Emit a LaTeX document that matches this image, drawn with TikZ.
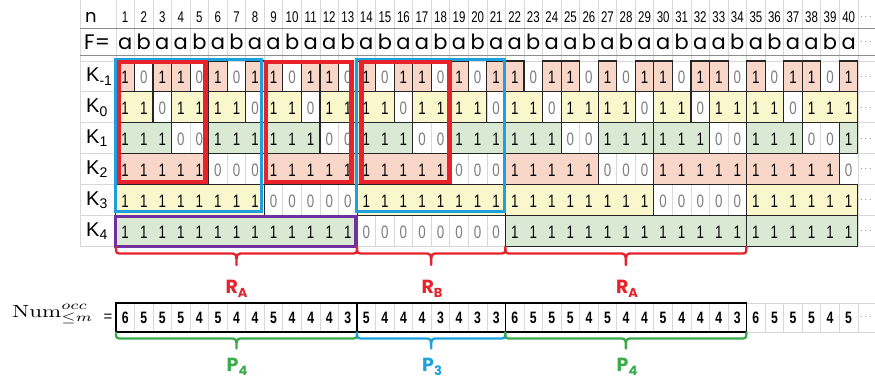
\documentclass[tikz,border=0pt]{standalone}
\usepackage[no-math]{fontspec}
\setmainfont{Liberation Sans}
\newfontfamily\nar[FakeStretch=0.74]{Liberation Sans}
\newfontfamily\narb[FakeStretch=0.74]{Liberation Sans Bold}
\newfontfamily\geo{Poppins}
\definecolor{cpink}{RGB}{248,214,200}
\definecolor{cyel}{RGB}{251,247,205}
\definecolor{cgrn}{RGB}{218,233,211}
\definecolor{cred}{RGB}{232,34,42}
\definecolor{cblue}{RGB}{30,160,220}
\definecolor{cpurp}{RGB}{112,48,160}
\definecolor{cgreen}{RGB}{58,170,74}
\definecolor{cgrid}{RGB}{216,216,216}
\definecolor{czero}{RGB}{125,125,125}
\pgfmathdeclarefunction{colx}{1}{\pgfmathparse{115.9+18.55*(#1-1)}}
\pgfmathdeclarefunction{rowt}{1}{\pgfmathparse{61+30.9*(#1)}}
\newcommand\kbox[4]{\filldraw[fill=#4,draw=black!85,line width=1.1pt] ({colx(#2)},{rowt(#1)}) rectangle ({colx(#3+1)},{rowt(#1+1)});}
\newcommand\krow[2]{\foreach \dd [count=\ii] in {#2} {\node[kd] (k#1c\ii) at ({colx(\ii)+9.275},{rowt(#1)+23}) {\ifnum\dd=0 \color{czero}\fi\dd};}}
\newcommand\mybrace[6]{\draw[#6,line width=2.3pt,line cap=round,line join=round] (#1,#3) .. controls (#1,#4) .. (#1+7,#4) -- ({(#1+#2)/2-7},#4) .. controls ({(#1+#2)/2},#4) .. ({(#1+#2)/2},#5) .. controls ({(#1+#2)/2},#4) .. ({(#1+#2)/2+7},#4) -- (#2-7,#4) .. controls (#2,#4) .. (#2,#3);}
\begin{document}
\begin{tikzpicture}[x=1pt,y=-1pt,
  kd/.style={anchor=base,inner sep=0pt,font=\nar\fontsize{18}{18}\selectfont},
  hd/.style={anchor=base,inner sep=0pt,font=\nar\fontsize{15.5}{16}\selectfont},
  fd/.style={anchor=base,inner sep=0pt,font=\geo\fontsize{21}{22}\selectfont},
  nd/.style={anchor=base,inner sep=0pt,font=\narb\fontsize{16.5}{17}\selectfont},
  klab/.style={anchor=base west,inner sep=0pt,font=\fontsize{20}{20}\selectfont},
  ell/.style={inner sep=0pt,text=czero,font=\fontsize{10}{10}\selectfont},
  lab/.style={anchor=base,inner sep=0pt,font=\geo\bfseries\fontsize{19}{19}\selectfont}]
\useasboundingbox (0,0) rectangle (875,382);
\fill[white] (0,0) rectangle (875,382);
% grid of the table
\foreach \ii in {1,...,41} \draw[cgrid,line width=0.8pt] ({colx(\ii)},0) -- ({colx(\ii)},{rowt(6)});
\draw[cgrid,line width=0.8pt] (80,0) -- (80,{rowt(6)});
\foreach \rr in {0,...,6} \draw[cgrid,line width=0.8pt] (80,{rowt(\rr)}) -- (875,{rowt(\rr)});
\draw[black!45,line width=0.9pt] (80,28) -- (875,28);
\draw[black!45,line width=0.9pt] (80,55.5) -- (875,55.5);
% header
\node[anchor=base west,inner sep=0pt,font=\geo\fontsize{18}{18}\selectfont] (nlab) at (85,22.5) {n};
\node[anchor=base west,inner sep=0pt,font=\geo\fontsize{21}{21}\selectfont] (flab) at (84,50) {F=};
\foreach \ii in {1,...,40} \node[hd] (h\ii) at ({colx(\ii)+9.275},23) {\ii};
\foreach \cc [count=\ii] in {a,b,a,a,b,a,b,a,a,b,a,a,b,a,b,a,a,b,a,b,a,a,b,a,a,b,a,b,a,a,b,a,a,b,a,b,a,a,b,a}
  \node[fd] (f\ii) at ({colx(\ii)+9.275},50) {\cc};
\node[ell] (hdots) at (866,17) {$\cdots$};
\node[ell] (fdots) at (866,42) {$\cdots$};
% row labels
\node[klab] (l0) at (86,{rowt(0)+21}) {K\textsubscript{-1}};
\node[klab] (l1) at (86,{rowt(1)+21}) {K\textsubscript{0}};
\node[klab] (l2) at (86,{rowt(2)+21}) {K\textsubscript{1}};
\node[klab] (l3) at (86,{rowt(3)+21}) {K\textsubscript{2}};
\node[klab] (l4) at (86,{rowt(4)+21}) {K\textsubscript{3}};
\node[klab] (l5) at (86,{rowt(5)+21}) {K\textsubscript{4}};
% boxes
\foreach \ss in {1,3,4,6,8,9,11,12,14,16,17,19,21,22,24,25,27,29,30,32,33,35,37,38,40} {\kbox{0}{\ss}{\ss}{cpink}}
\foreach \ss/\ee in {1/2,4/5,6/7,9/10,12/13,14/15,17/18,19/20,22/23,25/26,27/28,30/31,33/34,35/36,38/40} {\kbox{1}{\ss}{\ee}{cyel}}
\foreach \ss/\ee in {1/3,6/8,9/11,14/16,19/21,22/24,27/29,30/32,35/37,40/40} {\kbox{2}{\ss}{\ee}{cgrn}}
\foreach \ss/\ee in {1/5,9/13,14/18,22/26,30/34,35/39} {\kbox{3}{\ss}{\ee}{cpink}}
\foreach \ss/\ee in {1/8,14/21,22/29,35/40} {\kbox{4}{\ss}{\ee}{cyel}}
\foreach \ss/\ee in {1/13,22/34,35/40} {\kbox{5}{\ss}{\ee}{cgrn}}
% digits
\krow{0}{1,0,1,1,0,1,0,1,1,0,1,1,0,1,0,1,1,0,1,0,1,1,0,1,1,0,1,0,1,1,0,1,1,0,1,0,1,1,0,1}
\krow{1}{1,1,0,1,1,1,1,0,1,1,0,1,1,1,1,0,1,1,1,1,0,1,1,0,1,1,1,1,0,1,1,0,1,1,1,1,0,1,1,1}
\krow{2}{1,1,1,0,0,1,1,1,1,1,1,0,0,1,1,1,0,0,1,1,1,1,1,1,0,0,1,1,1,1,1,1,0,0,1,1,1,0,0,1}
\krow{3}{1,1,1,1,1,0,0,0,1,1,1,1,1,1,1,1,1,1,0,0,0,1,1,1,1,1,0,0,0,1,1,1,1,1,1,1,1,1,1,0}
\krow{4}{1,1,1,1,1,1,1,1,0,0,0,0,0,1,1,1,1,1,1,1,1,1,1,1,1,1,1,1,1,0,0,0,0,0,1,1,1,1,1,1}
\krow{5}{1,1,1,1,1,1,1,1,1,1,1,1,1,0,0,0,0,0,0,0,0,1,1,1,1,1,1,1,1,1,1,1,1,1,1,1,1,1,1,1}
\node[ell] (kdots0) at (866,77) {$\cdots$};
\node[ell] (kdots1) at (866,108) {$\cdots$};
\node[ell] (kdots2) at (866,139) {$\cdots$};
\node[ell] (kdots3) at (866,169.5) {$\cdots$};
\node[ell] (kdots4) at (866,200.5) {$\cdots$};
\node[ell] (kdots5) at (866,231.5) {$\cdots$};
% overlays
\draw[cblue,line width=3pt] (115.5,59.5) rectangle (261,212);
\draw[cblue,line width=3pt] (356.8,59.5) rectangle (504.5,212);
\draw[cred,line width=4.5pt] (119,61.8) rectangle (205.5,182);
\draw[cred,line width=4.5pt] (265.8,61.8) rectangle (351.7,182);
\draw[cred,line width=4.5pt] (361.7,61.8) rectangle (449.5,182);
\draw[cpurp,line width=3.5pt] (115.3,216.7) rectangle (356,246.7);
% upper braces
\mybrace{116}{357}{247}{253.5}{265}{cred}
\mybrace{357}{505.3}{247}{253.5}{265}{cred}
\mybrace{505.3}{746.4}{247}{253.5}{265}{cred}
\node[lab,text=cred] (ra1) at (236.5,293.3) {R\raisebox{-4pt}{\fontsize{13}{13}\selectfont A}};
\node[lab,text=cred] (rb) at (432,293.3) {R\raisebox{-4pt}{\fontsize{13}{13}\selectfont B}};
\node[lab,text=cred] (ra2) at (627,293.3) {R\raisebox{-4pt}{\fontsize{13}{13}\selectfont A}};
% Num row
\foreach \ii in {1,...,41} \draw[cgrid,line width=0.8pt] ({colx(\ii)},303) -- ({colx(\ii)},332);
\draw[cgrid,line width=0.8pt] ({colx(1)},303) -- (875,303) -- (875,332) -- ({colx(1)},332);
\foreach \dd [count=\ii] in {6,5,5,5,4,5,4,4,5,4,4,4,3,5,4,4,4,3,4,3,3,6,5,5,5,4,5,4,4,5,4,4,4,3,6,5,5,5,4,5}
  \node[nd] (m\ii) at ({colx(\ii)+9.275},323.3) {\dd};
\node[ell] (mdots) at (866,317) {$\cdots$};
\draw[black,line width=1.4pt] ({colx(1)},303) rectangle ({colx(14)},332);
\draw[black,line width=1.4pt] ({colx(14)},303) rectangle ({colx(22)},332);
\draw[black,line width=1.4pt] ({colx(22)},303) rectangle ({colx(35)},332);
\node[anchor=base west,inner sep=0pt] (numlab) at (12,317.3) {\scalebox{2.3}[1.76]{$\mathrm{Num}^{occ}_{\leq m}$}};
\node[inner sep=0pt,font=\fontsize{15}{15}\selectfont] (eq) at (108,317.5) {=};
% lower braces
\mybrace{116}{357}{332.5}{338.5}{348.5}{cgreen}
\mybrace{357}{505.3}{332.5}{338.5}{348.5}{cblue}
\mybrace{505.3}{746.4}{332.5}{338.5}{348.5}{cgreen}
\node[lab,text=cgreen] (p41) at (237,371.7) {P\raisebox{-4pt}{\fontsize{13}{13}\selectfont 4}};
\node[lab,text=cblue] (p3) at (432,371.7) {P\raisebox{-4pt}{\fontsize{13}{13}\selectfont 3}};
\node[lab,text=cgreen] (p42) at (627,371.7) {P\raisebox{-4pt}{\fontsize{13}{13}\selectfont 4}};
\end{tikzpicture}
\end{document}
